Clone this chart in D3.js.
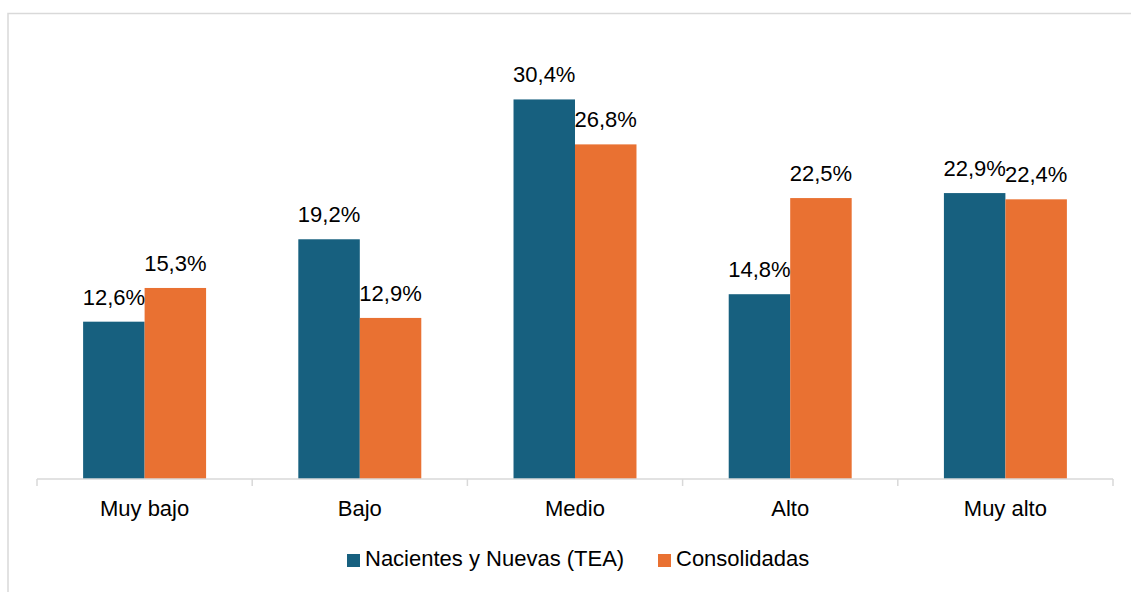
<!DOCTYPE html>
<html>
<head>
<meta charset="utf-8">
<script src="https://cdn.jsdelivr.net/npm/d3@7"></script>
<style>
  html, body { margin: 0; padding: 0; background: #fff; }
  svg { display: block; font-family: "Liberation Sans", Arial, sans-serif; }
</style>
</head>
<body>
<svg id="chart" width="1131" height="592"></svg>
<script>
const categories = ["Muy bajo", "Bajo", "Medio", "Alto", "Muy alto"];
const seriesNames = ["Nacientes y Nuevas (TEA)", "Consolidadas"];
const nacientes = [12.6, 19.2, 30.4, 14.8, 22.9];
const consolidadas = [15.3, 12.9, 26.8, 22.5, 22.4];
const colors = ["#17607f", "#e97132"];

const svg = d3.select("#chart");
const W = 1131, H = 592;

// outer border (cropped at right/bottom like the reference)
svg.append("rect")
  .attr("x", 8).attr("y", 13.5).attr("width", 1130).attr("height", 600)
  .attr("fill", "none").attr("stroke", "#d9d9d9").attr("stroke-width", 1.5);

const plot = { left: 37, right: 1113, top: 42, bottom: 479 };

const x = d3.scaleBand().domain(categories).range([plot.left, plot.right]).paddingInner(0).paddingOuter(0);
const gapFrac = 1.5; // Excel gap width 150%
const barW = x.bandwidth() / (2 + gapFrac);
const x1 = d3.scaleBand().domain([0, 1])
  .range([x.bandwidth() / 2 - barW, x.bandwidth() / 2 + barW]);

const y = d3.scaleLinear().domain([0, 35]).range([plot.bottom, plot.top]);

const data = categories.map((c, i) => ({ cat: c, vals: [nacientes[i], consolidadas[i]] }));

const groups = svg.append("g").selectAll("g").data(data).join("g")
  .attr("transform", d => `translate(${x(d.cat)},0)`);

groups.selectAll("rect").data(d => d.vals.map((v, j) => ({ v, j }))).join("rect")
  .attr("x", d => x1(d.j))
  .attr("width", x1.bandwidth())
  .attr("y", d => y(d.v))
  .attr("height", d => y(0) - y(d.v))
  .attr("fill", d => colors[d.j]);

groups.selectAll("text").data(d => d.vals.map((v, j) => ({ v, j }))).join("text")
  .attr("x", d => x1(d.j) + x1.bandwidth() / 2)
  .attr("y", d => y(d.v) - 17)
  .attr("text-anchor", "middle")
  .attr("font-size", 22)
  .attr("fill", "#000")
  .text(d => d.v.toFixed(1).replace(".", ",") + "%");

// x axis
const axis = d3.axisBottom(x).tickSize(0).tickPadding(0).tickFormat("");
const ax = svg.append("g").attr("transform", `translate(0,${plot.bottom})`).call(axis);
ax.select(".domain").attr("stroke", "#d9d9d9").attr("stroke-width", 1.5).attr("d", `M${plot.left},0H${plot.right}`);
const boundaries = categories.map(c => x(c)).concat([plot.right]);
svg.append("g").selectAll("line").data(boundaries).join("line")
  .attr("x1", d => d).attr("x2", d => d)
  .attr("y1", plot.bottom).attr("y2", plot.bottom + 7)
  .attr("stroke", "#d9d9d9").attr("stroke-width", 1.5);

svg.append("g").selectAll("text").data(categories).join("text")
  .attr("x", d => x(d) + x.bandwidth() / 2)
  .attr("y", 516)
  .attr("text-anchor", "middle")
  .attr("font-size", 22)
  .attr("fill", "#000")
  .text(d => d);

// legend
const legendItems = [
  { name: seriesNames[0], color: colors[0], x: 347 },
  { name: seriesNames[1], color: colors[1], x: 658 }
];
const lg = svg.append("g").selectAll("g").data(legendItems).join("g")
  .attr("transform", d => `translate(${d.x},0)`);
lg.append("rect").attr("x", 0).attr("y", 554).attr("width", 13).attr("height", 13).attr("fill", d => d.color);
lg.append("text").attr("x", 18).attr("y", 566).attr("font-size", 22).attr("fill", "#000").text(d => d.name);
</script>
</body>
</html>
